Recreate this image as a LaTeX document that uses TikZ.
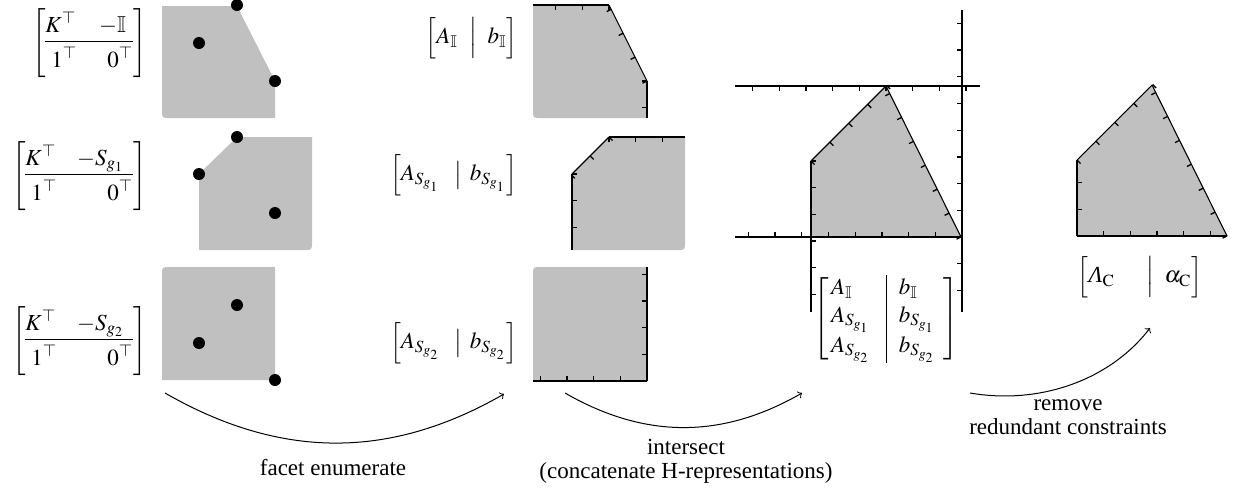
\documentclass[tikz,border=0pt]{standalone}
\usepackage{amssymb}
\usepackage{mathptmx}
\usepackage[no-math]{fontspec}
\setmainfont{Liberation Serif}
\definecolor{polyfill}{RGB}{192,192,192}
\tikzset{
  txt/.style={font=\fontsize{11.5}{12}\selectfont, inner sep=0pt},
  poly/.style={fill=polyfill},
  edge/.style={draw=black, line width=0.55pt},
  tickmark/.style={fill=black},
  dot/.style={circle, fill=black, inner sep=0pt, minimum size=6pt},
  flow/.style={->, line width=0.5pt},
}
% #1,#2 start; #3,#4 end; #5 = +1 ticks on left of direction, -1 on right
\newcommand{\mytickline}[5]{%
  \draw[edge] (#1,#2) -- (#3,#4);
  \pgfmathsetmacro{\tlDx}{(#3)-(#1)}%
  \pgfmathsetmacro{\tlDy}{(#4)-(#2)}%
  \pgfmathsetmacro{\tlLen}{veclen(\tlDx,\tlDy)}%
  \pgfmathsetmacro{\tlUx}{\tlDx/\tlLen}%
  \pgfmathsetmacro{\tlUy}{\tlDy/\tlLen}%
  \pgfmathsetmacro{\tlNx}{(#5)*\tlUy*5}%
  \pgfmathsetmacro{\tlNy}{0-(#5)*\tlUx*5}%
  \pgfmathsetmacro{\tlWx}{0.65*\tlUx}%
  \pgfmathsetmacro{\tlWy}{0.65*\tlUy}%
  \pgfmathtruncatemacro{\tlN}{floor(\tlLen/26.7+0.05)}%
  \foreach \tlK in {0,...,\tlN}{%
    \pgfmathsetmacro{\tlPx}{#1+\tlK*26.7*\tlUx}%
    \pgfmathsetmacro{\tlPy}{#2+\tlK*26.7*\tlUy}%
    \pgfmathsetmacro{\tlAx}{\tlPx-\tlWx}%
    \pgfmathsetmacro{\tlAy}{\tlPy-\tlWy}%
    \pgfmathsetmacro{\tlBx}{\tlPx+\tlWx}%
    \pgfmathsetmacro{\tlBy}{\tlPy+\tlWy}%
    \pgfmathsetmacro{\tlCx}{\tlBx+\tlNx}%
    \pgfmathsetmacro{\tlCy}{\tlBy+\tlNy}%
    \pgfmathsetmacro{\tlEx}{\tlAx+\tlNx}%
    \pgfmathsetmacro{\tlEy}{\tlAy+\tlNy}%
    \fill[tickmark] (\tlAx,\tlAy) -- (\tlBx,\tlBy) -- (\tlCx,\tlCy) -- (\tlEx,\tlEy) -- cycle;
  }%
}
\begin{document}
\begin{tikzpicture}[x=0.5pt, y=-0.5pt]
\useasboundingbox (0,0) rectangle (1236,495);

% ---------- column 1: matrices ----------
\node[txt, anchor=east] (m1) at (147,43)
  {$\left[\begin{array}{@{}l@{\hspace{11pt}}l@{}}
     \makebox[13.5pt][l]{$K^\top$} & \makebox[17pt][l]{$-\mathbb{I}$}\\[1pt] \hline
     \rule{0pt}{12.5pt}\hspace{3pt}1^\top & \makebox[17pt][r]{$0^\top$} \end{array}\right]$};
\node[txt, anchor=east] (m2) at (147,176)
  {$\left[\begin{array}{@{}l@{\hspace{10pt}}l@{}}
     \makebox[14pt][l]{$K^\top$} & \makebox[28pt][l]{$-S_{g_1}$}\\[1pt] \hline
     \rule{0pt}{12.5pt}\hspace{3pt}1^\top & \makebox[28pt][r]{$0^\top$} \end{array}\right]$};
\node[txt, anchor=east] (m3) at (147,341)
  {$\left[\begin{array}{@{}l@{\hspace{10pt}}l@{}}
     \makebox[14pt][l]{$K^\top$} & \makebox[28pt][l]{$-S_{g_2}$}\\[1pt] \hline
     \rule{0pt}{12.5pt}\hspace{3pt}1^\top & \makebox[28pt][r]{$0^\top$} \end{array}\right]$};

% ---------- column 1: V-polytopes ----------
\fill[poly] (162,6) -- (237,6) -- (275,81) -- (275,118) -- (170,118) .. controls (162,118) .. (162,110) -- cycle;
\node[dot] (v11) at (237,5) {};
\node[dot] (v12) at (199,43) {};
\node[dot] (v13) at (275,81) {};

\fill[poly] (199,174) -- (237,137) -- (312,137) -- (312,242) .. controls (312,250) .. (304,250) -- (199,250) -- cycle;
\node[dot] (v21) at (237,137) {};
\node[dot] (v22) at (199,174) {};
\node[dot] (v23) at (275,213) {};

\fill[poly] (162,275) .. controls (162,267) .. (170,267) -- (275,267) -- (275,380) -- (162,380) -- cycle;
\node[dot] (v31) at (237,305) {};
\node[dot] (v32) at (199,343) {};
\node[dot] (v33) at (275,380) {};

% ---------- column 2: H-representations ----------
\node[txt, anchor=east] (l1) at (518,38) {$\Bigl[A_{\mathbb{I}}\hspace{6pt}\Big|\hspace{5pt}b_{\mathbb{I}}\Bigr]$};
\node[txt, anchor=east] (l2) at (518,175) {$\Bigl[A_{S_{g_1}}\hspace{7pt}\big|\hspace{4pt}b_{S_{g_1}}\Bigr]$};
\node[txt, anchor=east] (l3) at (518,343) {$\Bigl[A_{S_{g_2}}\hspace{7pt}\big|\hspace{4pt}b_{S_{g_2}}\Bigr]$};

\fill[poly] (533,5) -- (609,5) -- (647,81) -- (647,118) -- (541,118) .. controls (533,118) .. (533,110) -- cycle;
\mytickline{609}{5}{533}{5}{1}
\mytickline{647}{81}{609}{5}{1}
\mytickline{647}{81}{647}{118}{-1}

\fill[poly] (572,174) -- (609,137) -- (685,137) -- (685,242) .. controls (685,250) .. (677,250) -- (572,250) -- cycle;
\mytickline{609}{137}{685}{137}{-1}
\mytickline{609}{137}{572}{174}{1}
\mytickline{572}{174}{572}{250}{1}

\fill[poly] (533,275) .. controls (533,267) .. (541,267) -- (647,267) -- (647,381) -- (533,381) -- cycle;
\mytickline{647}{381}{647}{267}{1}
\mytickline{647}{381}{533}{381}{-1}

% ---------- column 3: intersection ----------
\fill[poly] (811,237) -- (811,161) -- (886,86) -- (961,237) -- cycle;
\mytickline{886}{86}{735}{86}{1}
\mytickline{886}{86}{980}{86}{-1}
\mytickline{962}{237}{962}{10}{1}
\mytickline{962}{237}{962}{312}{-1}
\mytickline{962}{237}{735}{237}{-1}
\mytickline{811}{161}{811}{312}{1}
\mytickline{811}{161}{886}{86}{-1}
\mytickline{961}{237}{886}{86}{1}

\node[txt] (mc) at (886,319)
  {\renewcommand{\arraystretch}{1.15}$\left[\begin{array}{@{\,}l@{\hspace{8pt}}|@{\hspace{6pt}}l@{\hspace{4pt}}} A_{\mathbb{I}} & b_{\mathbb{I}}\\ A_{S_{g_1}} & b_{S_{g_1}}\\ A_{S_{g_2}} & b_{S_{g_2}}\end{array}\right]$};

% ---------- column 4: result ----------
\fill[poly] (1077,236) -- (1077,160) -- (1152,85) -- (1227,236) -- cycle;
\mytickline{1077}{236}{1077}{160}{-1}
\mytickline{1077}{236}{1227}{236}{1}
\mytickline{1077}{160}{1152}{85}{-1}
\mytickline{1227}{236}{1152}{85}{1}

\node[txt] (lc) at (1140,277) {$\Bigl[\mbox{\itshape Λ}_{\mathrm{C}}\hspace{16pt}\Big|\hspace{5pt}\alpha_{\mathrm{C}}\Bigr]$};

% ---------- arrows and labels ----------
\coordinate (a1s) at (165,393);
\coordinate (a1e) at (504,394);
\draw[flow] (a1s) .. controls (280,459) and (389,460) .. (a1e);
\node[txt, align=center] (t1) at (333,467) {facet enumerate};

\coordinate (a2s) at (565,393);
\coordinate (a2e) at (802,393);
\draw[flow] (a2s) .. controls (645,439) and (722,439) .. (a2e);
\node[txt, align=center] (t2) at (686,461) {intersect\\(concatenate H-representations)};

\coordinate (a3s) at (970,393);
\coordinate (a3e) at (1150,328);
\draw[flow] (a3s) .. controls (1040,405) and (1110,380) .. (a3e);
\node[txt, align=center] (t3) at (1068,417) {remove\\redundant constraints};
\end{tikzpicture}
\end{document}
